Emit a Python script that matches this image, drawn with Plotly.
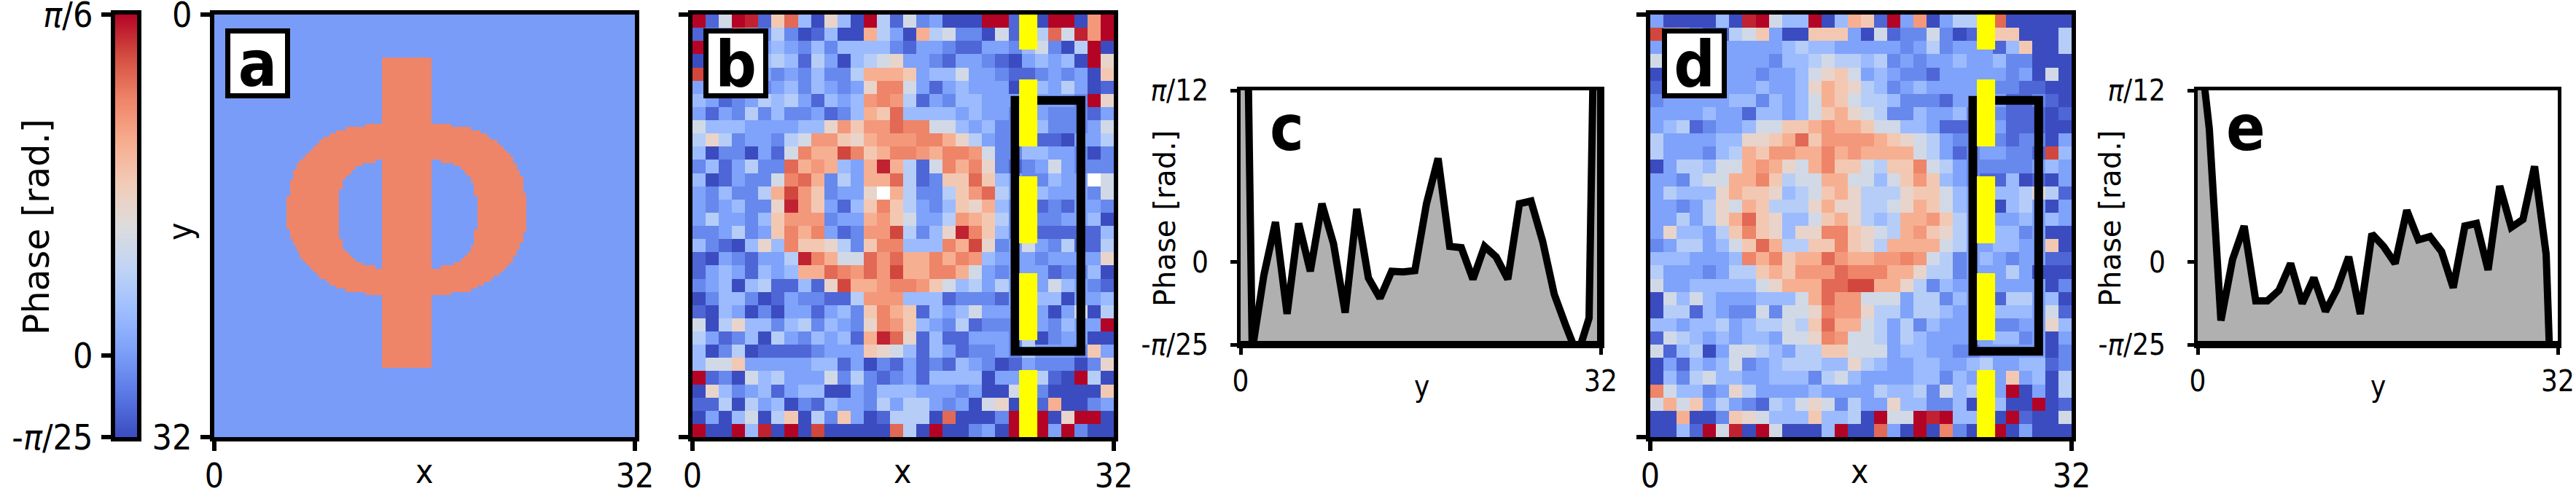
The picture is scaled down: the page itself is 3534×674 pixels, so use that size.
import numpy as np
import plotly.graph_objects as go

W, H = 3534, 674
pi = np.pi

# phase range of the images and of the two profiles
zmin, zmax = -pi / 25, pi / 6
prof_min, prof_max = -pi / 25, pi / 12
coolwarm = [
    [0.0, "#3b4cc0"], [0.1, "#5a78e4"], [0.2, "#7b9ff9"], [0.3, "#9ebeff"],
    [0.4, "#c0d4f5"], [0.5, "#dddcdc"], [0.6, "#f2cbb7"], [0.7, "#f7ac8e"],
    [0.8, "#ee8468"], [0.9, "#d44e41"], [1.0, "#b40426"],
]

# panel a: phi mask read row by row on a 128 x 128 grid, value in rad.
phi_background = 0.0
phi_value = pi / 8
phi_center = 58.6
stem_cols = (51, 66)
stem_rows = (13, 107)
ring_top = 33
ring_outer = [13, 19, 22, 24, 25.5, 27, 28, 29, 30, 31, 32, 32.7, 33.3, 33.8, 34.3, 34.7, 35, 35.3, 35.5,
              35.7, 35.9, 36, 36.2, 36.3, 36.4, 36.5, 36.5, 36.5, 36.5, 36.4, 36.3, 36.2, 36, 35.8,
              35.5, 35.1, 34.6, 34.1, 33.6, 33, 32.5, 32, 31, 30, 29, 28, 26.5, 25, 23.5, 21.5, 19, 13]
hole_top = 44
hole_half = [10, 14, 16, 17, 18, 19, 19.5, 20, 20, 20.5, 20.5, 21, 21, 21, 21, 21, 21,
             21, 21, 21, 21, 20.5, 20.5, 20.5, 20, 20, 19.5, 19, 18, 17, 16, 14, 10]

# panels b and d: one character per pixel, looked up in level_frac (W = blank pixel)
level_frac = {"0": 0.0, "1": 0.06, "2": 0.14, "3": 0.21, "4": 0.29, "5": 0.37, "6": 0.46, "7": 0.55,
              "8": 0.61, "9": 0.69, "A": 0.75, "B": 0.80, "C": 0.85, "D": 0.91, "E": 0.96, "F": 1.0}

rows_b = [
    "F16FE18C 40740F51 623000FF 120FF0AF",
    "123A4252 01400953 09562206 135C6EAF",
    "F3332343 24244442 13321133 246205F0",
    "03332454 15304567 33213321 034340F7",
    "D4323323 24225999 83446332 11232308",
    "33332234 243237BB 63134333 04435301",
    "43123545 31434ABA 51324433 333332F7",
    "31325242 2312498C 44443433 23322213",
    "64443333 447A8AAC BB664342 23422236",
    "57523325 6AA879AA ABB97532 22110335",
    "40220316 B99DB89B BA9BBA62 24433202",
    "2413522C 9A9439E9 516B9B72 12363222",
    "4013226B C925399C 51288C84 322433W6",
    "3242259D A82337W9 52258AC5 33433326",
    "3234227E A83148B8 53248794 22121332",
    "3533248A AA2339A8 6335A985 22223340",
    "2235238B 9B312AAD 5247EB84 22111114",
    "4210474B 887528BB 444B9D72 36325115",
    "10321335 EB966CAC 99B9BA43 33233337",
    "13431434 99CBACAD 99BB9632 33312240",
    "23404511 417D99AB BA864535 33364321",
    "02442013 22115AAA 44412221 33440334",
    "10430203 313428B9 81434633 33303605",
    "60574424 524327BA 84325122 2332433F",
    "53124053 243419EC 71411333 25023300",
    "40250111 12333876 41431223 25333283",
    "46683333 34413021 31214320 13222027",
    "F1206453 33625212 31444403 35510F50",
    "07423413 44003244 43332300 63200008",
    "11505340 21433253 55323067 03190023",
    "03046058 05283015 550C0002 FFF07FF0",
    "F00F4E0F 0D00000C 50F00230 FFF3F200",
]

rows_d = [
    "3000040E F644F049 81F3A035 53C00000",
    "D8731156 83008883 06122620 13880005",
    "33333333 33454433 33323523 33148005",
    "63333333 32445655 45232334 33422000",
    "03333333 23346786 34322133 33323060",
    "13333333 43347987 54234333 32221100",
    "23333344 24346986 55422213 33311210",
    "33334331 44346897 65224334 23211101",
    "34512334 66889A99 86644311 13311100",
    "53333447 789C8AAA A9876532 23212203",
    "53332459 8AA99B9A 99996531 233221D4",
    "03554669 A9769B88 6588B653 22222343",
    "33256699 B8566996 6468A843 21140103",
    "35444798 87456897 55578864 33445751",
    "33235769 85557977 55679864 33045303",
    "3353579C 87446897 54599A85 33334343",
    "3744358B 87477BB8 7659A875 33442300",
    "23553468 C95588B8 75999965 33443380",
    "4443334B 9B899CA9 9AABA652 34323311",
    "53332355 898AAACB BB997552 33353000",
    "63344444 67999CCD D9975243 33333302",
    "06464333 44469CAA 66635524 33155340",
    "05514322 62667BAA 75535543 33444361",
    "44344534 55658C99 65352433 33223374",
    "16543434 43667BA6 65354333 33442303",
    "61450366 54355886 66344332 23333302",
    "03143462 34555447 54334433 45334412",
    "04256443 34442564 33334424 33383405",
    "B6442375 33334333 35445264 543F0305",
    "69683532 15467625 33744224 03400F01",
    "00900287 64448445 0F66FEF4 440F1006",
    "0041F6E0 F60004F0 0C30F0B2 01F03000",
]

# panels c and e: phase along the dashed column, rad.
profile_y = np.linspace(0, 32, 32)
profile_c = [1.08, -0.134, -0.02, 0.061, -0.079, 0.059, -0.014, 0.089, 0.028, -0.077, 0.081, -0.024,
             -0.055, -0.014, -0.015, -0.013, 0.089, 0.158, 0.024, 0.022, -0.026, 0.024, 0.008, -0.026,
             0.089, 0.093, 0.032, -0.049, -0.097, -0.142, -0.085, 1.0]
profile_e = [0.36, 0.203, -0.089, 0.004, 0.055, -0.059, -0.059, -0.043, -0.002, -0.063, -0.024, -0.075,
             -0.041, 0.008, -0.079, 0.043, 0.024, -0.002, 0.079, 0.034, 0.039, 0.016, -0.039, 0.055,
             0.059, -0.012, 0.116, 0.053, 0.065, 0.146, 0.012, -0.5]

# overlay on panels b and d
dash_col = 25.5
box_cols = (24.5, 29.5)
box_rows = (6.5, 25.5)

FONT = "DejaVu Sans Condensed"


def decode(rows):
    out = []
    for r in rows:
        r = r.replace(" ", "")
        assert len(r) == 32, r
        out.append([None if c == "W" else zmin + level_frac[c] * (zmax - zmin) for c in r])
    return out


def phi_image():
    img = np.full((128, 128), phi_background)
    for i, half in enumerate(ring_outer):
        for c in range(128):
            if abs(c + 0.5 - phi_center) < half:
                img[ring_top + i, c] = phi_value
    for i, half in enumerate(hole_half):
        for c in range(128):
            if abs(c + 0.5 - phi_center) < half:
                img[hole_top + i, c] = phi_background
    img[stem_rows[0]:stem_rows[1], stem_cols[0]:stem_cols[1]] = phi_value
    return img.tolist()


def xdom(a, b):
    return [a / W, b / W]


def ydom(top, bottom):
    return [1 - bottom / H, 1 - top / H]


def axis(domain, rng, tickvals, ticktext, ticks="outside", size=48, width=6, ticklen=13, standoff=2, anchor=None):
    return dict(domain=domain, range=rng, tickmode="array", tickvals=tickvals, ticktext=ticktext,
                ticks=ticks, ticklen=ticklen, tickwidth=width, tickcolor="black", automargin=False,
                showline=True, linecolor="black", linewidth=width, mirror=True,
                showgrid=False, zeroline=False, anchor=anchor, ticklabelstandoff=standoff,
                ticklabeloverflow="allow",
                tickfont=dict(family=FONT, size=size, color="black"))


def label(px, py, text, size=46, angle=0, family=FONT):
    return dict(xref="paper", yref="paper", x=px / W, y=1 - py / H, text=text, showarrow=False,
                xanchor="center", yanchor="middle", textangle=angle,
                font=dict(family=family, size=size, color="black"))


def panel_letter(px, py, text, boxed=True):
    a = label(px, py, "<b>%s</b>" % text, size=88)
    if boxed:
        a.update(bgcolor="white", bordercolor="black", borderwidth=7, borderpad=0, width=75, height=82)
    return a


fig = go.Figure()

# colour bar drawn as its own small image so the ticks sit on the left
fig.add_trace(go.Heatmap(z=[[v] for v in np.linspace(zmin, zmax, 256)], x=[0.5],
                         y=np.linspace(zmin, zmax, 256), colorscale=coolwarm, zmin=zmin, zmax=zmax,
                         showscale=False, xaxis="x", yaxis="y"))

fig.add_trace(go.Heatmap(z=phi_image(), x0=0.125, dx=0.25, y0=0.125, dy=0.25, colorscale=coolwarm,
                         zmin=zmin, zmax=zmax, showscale=False, xaxis="x2", yaxis="y2"))
fig.add_trace(go.Heatmap(z=decode(rows_b), x0=0.5, dx=1, y0=0.5, dy=1, colorscale=coolwarm,
                         zmin=zmin, zmax=zmax, showscale=False, xaxis="x3", yaxis="y3"))
fig.add_trace(go.Heatmap(z=decode(rows_d), x0=0.5, dx=1, y0=0.5, dy=1, colorscale=coolwarm,
                         zmin=zmin, zmax=zmax, showscale=False, xaxis="x5", yaxis="y5"))

for vals, xa, ya in [(profile_c, "x4", "y4"), (profile_e, "x6", "y6")]:
    fig.add_trace(go.Scatter(x=list(profile_y) + [32, 0], y=vals + [prof_min, prof_min], mode="lines",
                             fill="toself", fillcolor="#b0b0b0",
                             line=dict(color="black", width=10, simplify=False),
                             xaxis=xa, yaxis=ya))

shapes = []
for xa, ya in [("x3", "y3"), ("x5", "y5")]:
    shapes.append(dict(type="rect", xref=xa, yref=ya, x0=box_cols[0], x1=box_cols[1],
                       y0=box_rows[0], y1=box_rows[1], line=dict(color="black", width=12)))
    shapes.append(dict(type="line", xref=xa, yref=ya, x0=dash_col, x1=dash_col, y0=32, y1=0,
                       line=dict(color="#ffff00", width=25, dash="92px,41px")))

T32 = [0, 32]
T32_txt = ["0", "32"]
P3 = [prof_min, 0, prof_max]
P3_txt = ["-<i>π</i>/25", "0", "<i>π</i>/12"]

layout = dict(
    width=W, height=H, autosize=False, margin=dict(l=0, r=0, t=0, b=0),
    paper_bgcolor="white", plot_bgcolor="white", showlegend=False, shapes=shapes,
    # colour bar
    xaxis=axis(xdom(158, 188), [0, 1], [], [], ticks="", anchor="y"),
    yaxis=axis(ydom(20, 600), [zmin, zmax], [zmin, 0, zmax], ["-<i>π</i>/25", "0", "<i>π</i>/6"], anchor="x"),
    # a
    xaxis2=axis(xdom(294, 871), T32, T32, T32_txt, size=46, standoff=-5, anchor="y2"),
    yaxis2=axis(ydom(20, 600), [32, 0], T32, T32_txt, anchor="x2"),
    # b
    xaxis3=axis(xdom(950, 1528), T32, T32, T32_txt, size=46, standoff=-5, anchor="y3"),
    yaxis3=axis(ydom(20, 600), [32, 0], T32, ["", ""], anchor="x3"),
    # c
    xaxis4=axis(xdom(1702, 2196), T32, T32, T32_txt, size=40, width=5, ticklen=9, standoff=2, anchor="y4"),
    yaxis4=axis(ydom(124, 473), [prof_min, prof_max], P3, P3_txt, size=40, width=5, ticklen=9, standoff=22, anchor="x4"),
    # d
    xaxis5=axis(xdom(2264, 2842), T32, T32, T32_txt, size=46, standoff=-5, anchor="y5"),
    yaxis5=axis(ydom(20, 600), [32, 0], T32, ["", ""], anchor="x5"),
    # e
    xaxis6=axis(xdom(3015, 3509), T32, T32, T32_txt, size=40, width=5, ticklen=9, standoff=2, anchor="y6"),
    yaxis6=axis(ydom(124, 473), [prof_min, prof_max], P3, P3_txt, size=40, width=5, ticklen=9, standoff=22, anchor="x6"),
    annotations=[
        label(50, 312, "Phase [rad.]", size=49, angle=-90, family="DejaVu Sans"),
        label(247, 318, "y", angle=-90),
        label(582, 647, "x"), label(1238, 647, "x"), label(2551, 647, "x"),
        label(1598, 300, "Phase [rad.]", size=40, angle=-90, family="DejaVu Sans"),
        label(2895, 300, "Phase [rad.]", size=40, angle=-90, family="DejaVu Sans"),
        label(1950, 530, "y", size=40), label(3262, 530, "y", size=40),
        panel_letter(353, 87, "a"), panel_letter(1010, 87, "b"), panel_letter(2324, 87, "d"),
        panel_letter(1765, 175, "c", boxed=False), panel_letter(3081, 175, "e", boxed=False),
    ],
)
fig.update_layout(**layout)

fig.write_html("out.html", config={"displayModeBar": False},
               post_script="document.body.style.margin='0';")
